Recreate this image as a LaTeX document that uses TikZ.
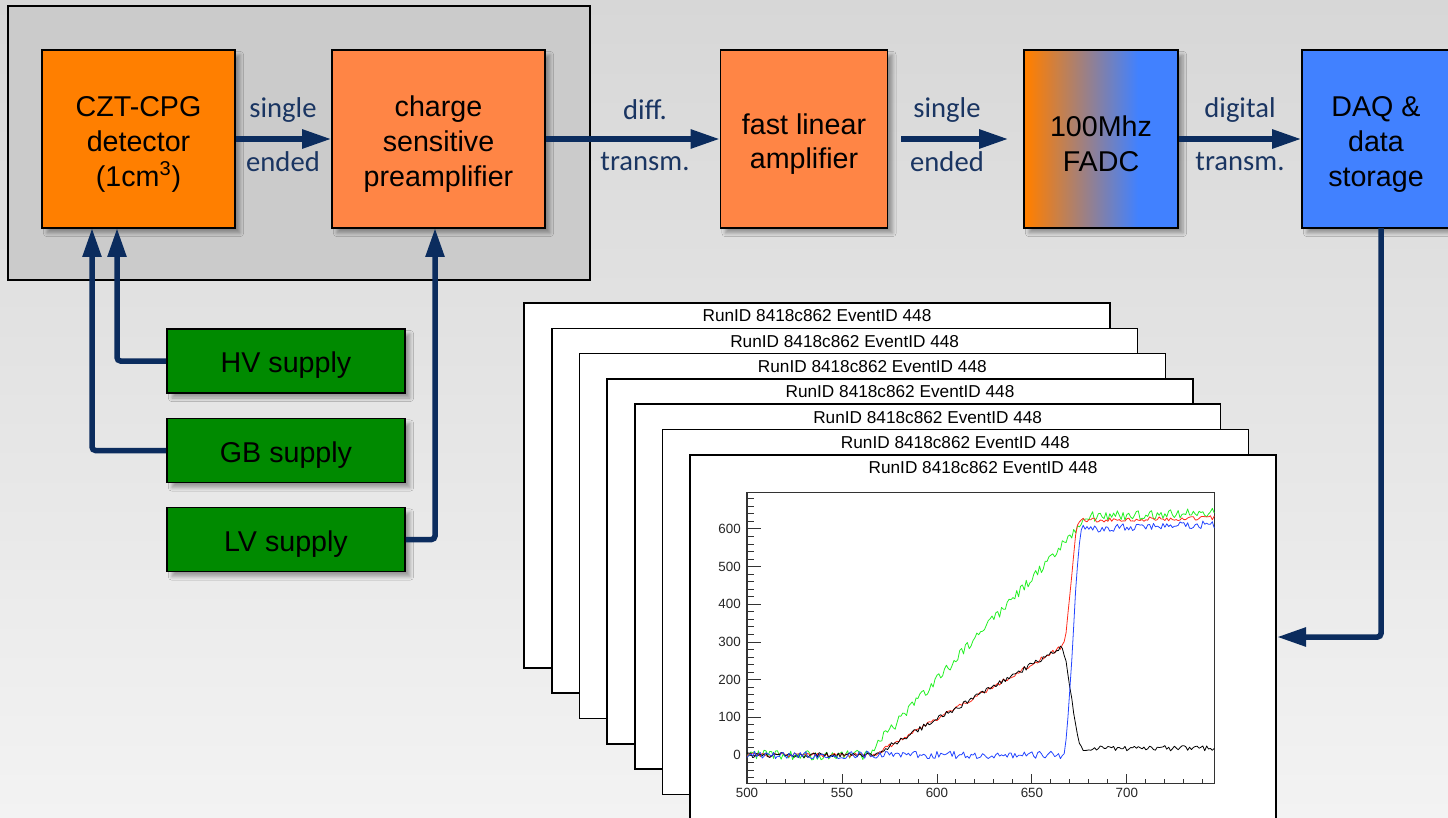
\documentclass[tikz,border=0pt]{standalone}
\usepackage{fontspec}
\setmainfont{Liberation Sans}
\newfontfamily\labelfont{Carlito}
\usetikzlibrary{arrows.meta, shadows.blur}
\definecolor{cztorange}{HTML}{FF7F00}
\definecolor{ampcoral}{HTML}{FF8545}
\definecolor{daqblue}{HTML}{4181FF}
\definecolor{supplygreen}{HTML}{008A00}
\definecolor{wirenavy}{HTML}{0B2C5E}
\definecolor{textnavy}{HTML}{1A3562}
\definecolor{housinggray}{HTML}{CBCBCB}
\definecolor{bgtop}{HTML}{D7D7D7}
\definecolor{bgbottom}{HTML}{F3F3F3}
\definecolor{tracegreen}{HTML}{22F022}
\definecolor{tracered}{HTML}{FF2A1A}
\definecolor{traceblue}{HTML}{2244FF}
\pgfdeclarehorizontalshading{fadcshade}{100bp}{color(0bp)=(cztorange); color(26bp)=(cztorange); color(62bp)=(daqblue); color(100bp)=(daqblue)}
\newcommand{\boxstrut}{\rule{0pt}{17.5pt}}

\begin{document}
\begin{tikzpicture}[x=0.02cm, y=-0.02cm,
  stagebox/.style={rectangle, draw=black, line width=0.9pt, minimum height=3.56cm,
                align=center, font=\fontsize{16.3}{19.8}\selectfont,
                blur shadow={shadow xshift=0.1cm, shadow yshift=-0.1cm, shadow opacity=35, shadow blur steps=6}},
  supplybox/.style={rectangle, draw=black, line width=0.9pt, fill=supplygreen,
                minimum width=4.76cm, minimum height=1.28cm, font=\fontsize{16.3}{19.8}\selectfont,
                execute at begin node={\rule{0pt}{16.5pt}},
                blur shadow={shadow xshift=0.1cm, shadow yshift=-0.1cm, shadow opacity=35, shadow blur steps=6}},
  sigwire/.style={-{Triangle[length=0.58cm, width=0.36cm]}, line width=0.11cm, wirenavy},
  siglabel/.style={font=\labelfont\fontsize{16.3}{19}\selectfont, text=textnavy},
  evframe/.style={rectangle, draw=black, line width=0.9pt, fill=white,
                minimum width=11.72cm, minimum height=7.3cm},
  evtitle/.style={font=\fontsize{9.8}{11}\selectfont, inner sep=1pt},
  ticklab/.style={font=\fontsize{7.6}{9}\selectfont, text=black!85, inner sep=1pt},
  trace/.style={#1, line width=0.45pt, line join=round},
  declare function={
    ramp(\q,\lo,\hi)=min(max((\q-\lo)/(\hi-\lo),0),1);
    sstep(\q,\lo,\hi)=ramp(\q,\lo,\hi)*ramp(\q,\lo,\hi)*(3-2*ramp(\q,\lo,\hi));
    rise(\q)=min(2.9*max(\q-567,0),287);
    redf(\q)=rise(\q)+335*sstep(\q,666,675)+8*ramp(\q,676,746);
    blkf(\q)=rise(\q)*(1-sstep(\q,665,677))+18*sstep(\q,670,680);
    bluf(\q)=600*sstep(\q,666.5,676.5)+12*ramp(\q,677,746);
    grnf(\q)=min(5.4*max(\q-563,0),632)+12*ramp(\q,677,746);
  }
]
\useasboundingbox (0,0) rectangle (1448,818);
\clip (0,0) rectangle (1448,818);
\shade[top color=bgtop, bottom color=bgbottom] (0,0) rectangle (1448,818);

% === Front-end housing ===
\node[rectangle, draw=black, line width=0.9pt, fill=housinggray,
      minimum width=11.64cm, minimum height=5.48cm] (housing) at (299,143) {};

% === Signal chain (left to right) ===
\node[stagebox, fill=cztorange, minimum width=3.86cm] (czt)  at (138.5,139) {\boxstrut CZT-CPG\\detector\\(1cm\textsuperscript{3})};
\node[stagebox, fill=ampcoral, minimum width=4.26cm]  (csa)  at (438.5,139) {\boxstrut charge\\sensitive\\preamplifier};
\node[stagebox, fill=ampcoral, minimum width=3.34cm]  (fla)  at (804,139)   {\boxstrut fast linear\\amplifier};
\node[stagebox, shade, shading=fadcshade, minimum width=3.08cm] (fadc) at (1101,139) {\boxstrut 100Mhz\\FADC};
\node[stagebox, fill=daqblue, minimum width=2.96cm]   (daq)  at (1376,139)  {\boxstrut DAQ \&\\data\\storage};

\draw[sigwire] (czt) -- (csa);
\node[siglabel] (czttop) at (283,110) {single};
\node[siglabel] (cztbot) at (283,162) {ended};

\draw[sigwire] (csa) -- (fla);
\node[siglabel] (csatop) at (645,110) {diff.};
\node[siglabel] (csabot) at (645,162) {transm.};

\draw[sigwire, shorten <=0.26cm, shorten >=0.3cm] (fla) -- (fadc);
\node[siglabel] (flatop) at (947,110) {single};
\node[siglabel] (flabot) at (947,162) {ended};

\draw[sigwire] (fadc) -- (daq);
\node[siglabel] (fadctop) at (1240,110) {digital};
\node[siglabel] (fadcbot) at (1240,162) {transm.};

% === Supplies ===
\node[supplybox] (hv) at (286,361)   {HV supply};
\node[supplybox] (gb) at (286,450.5) {GB supply};
\node[supplybox] (lv) at (286,539.5) {LV supply};

\coordinate (hvpin) at (117,228);
\coordinate (gbpin) at (92,228);
\coordinate (lvpin) at (435,228);
\draw[sigwire, rounded corners=2pt] (hv.west) -| (hvpin);
\draw[sigwire, rounded corners=2pt] (gb.west) -| (gbpin);
\draw[sigwire, rounded corners=2pt] (lv.east) -| (lvpin);

% === Stored events ===
\foreach \i in {0,...,6} {
  \node[evframe] (ev\i) at ({817+27.67*\i},{485.5+25.3*\i}) {};
  \node[evtitle] (evt\i) at ({817+27.67*\i},{316+25.3*\i}) {RunID 8418c862 EventID 448};
}

\coordinate (daqpin) at (1381,228);
\coordinate (evpin) at (1277,637);
\draw[sigwire, rounded corners=2pt] (daqpin) |- (evpin);

% === Waveforms of the last event ===
\begin{scope}[shift={(747,755)}, x=0.038cm, y=0.00754cm]
  \draw[black!80, line width=0.6pt] (0,-75) rectangle (246,696);
  \foreach \v in {-60,-40,...,680} \draw[black!80, line width=0.5pt] (0,\v) -- ++(0.14cm,0);
  \foreach \v in {0,100,...,600} {
    \draw[black!80, line width=0.5pt] (0,\v) -- ++(0.28cm,0);
    \node[ticklab, anchor=east] (yl\v) at ([xshift=-2.4pt]0,\v) {\v};
  }
  \foreach \v in {10,20,...,240} \draw[black!80, line width=0.5pt] (\v,-75) -- ++(0,0.09cm);
  \foreach \v in {500,550,...,700} {
    \draw[black!80, line width=0.5pt] ({\v-500},-75) -- ++(0,0.18cm);
    \node[ticklab, anchor=north] (xl\v) at ([yshift=-1.5pt]{\v-500},-75) {\v};
  }
  \pgfmathsetseed{448}
  \draw[trace=tracegreen] plot[domain=500:746, samples=247] ({\x-500},{grnf(\x)+13*rand});
  \draw[trace=tracered]   plot[domain=500:746, samples=247] ({\x-500},{redf(\x)+6*rand});
  \draw[trace=black]      plot[domain=500:746, samples=247] ({\x-500},{blkf(\x)+7*rand});
  \draw[trace=traceblue]  plot[domain=500:746, samples=247] ({\x-500},{bluf(\x)+10*rand});
\end{scope}

\end{tikzpicture}
\end{document}
